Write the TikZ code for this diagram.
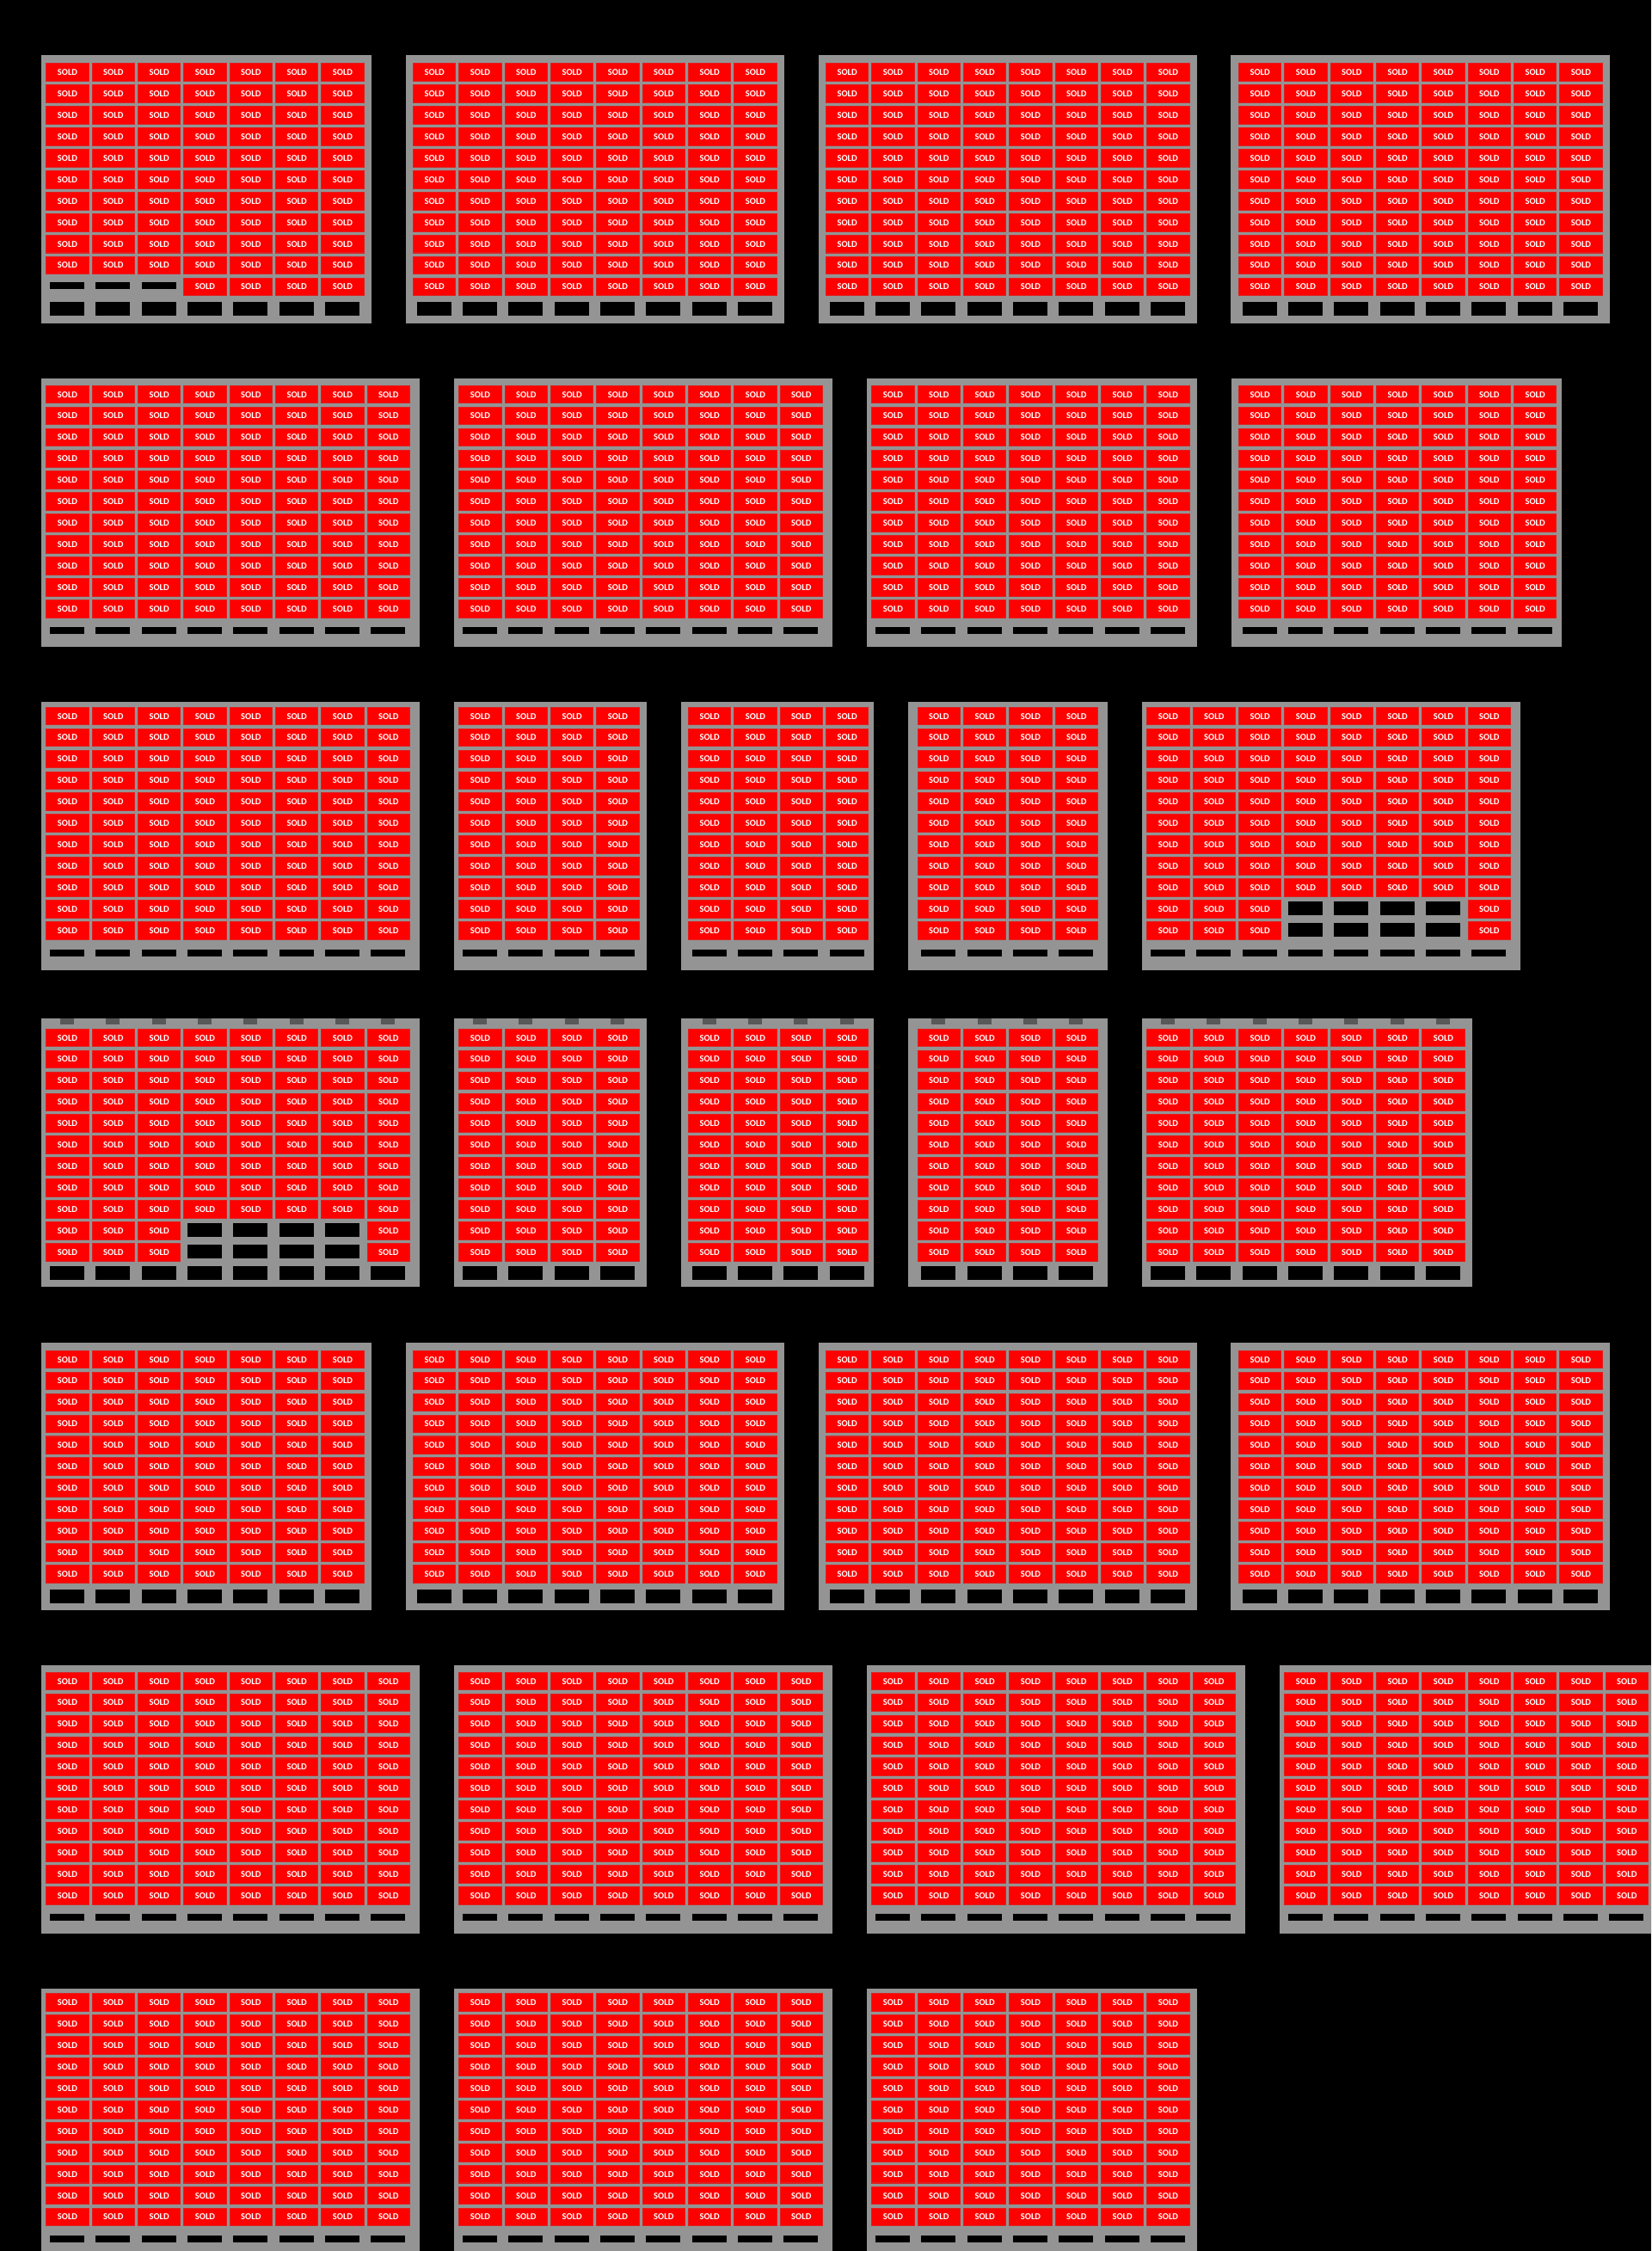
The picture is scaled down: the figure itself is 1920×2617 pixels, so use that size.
\documentclass[tikz,border=0pt]{standalone}
\usepackage{fontspec}
\newfontfamily\seatfont{Carlito}
\usepackage{tikz}
\definecolor{lotgray}{RGB}{148,148,148}
\definecolor{soldred}{RGB}{255,0,0}
\definecolor{tabgray}{RGB}{88,88,88}

\begin{document}
\begin{tikzpicture}[x=0.01cm, y=-0.01cm,
    seat/.style={rectangle, fill=soldred, draw=red!75!gray, line width=0.3pt,
                 minimum width=0.493cm, minimum height=0.207cm, inner sep=0pt,
                 anchor=north west, text=white,
                 font=\seatfont\bfseries\fontsize{3}{3}\selectfont},
    slot/.style={fill=black},
    lot/.style={fill=lotgray},
    tab/.style={fill=tabgray}
  ]
    % Page
    \useasboundingbox (0,0) rectangle (1920,2617);
    \fill[black] (0,0) rectangle (1920,2617);
    \clip (0,0) rectangle (1920,2617);
    % Row data (one entry per row of blocks)
    \def\celltop{{73.3,447.7,821.7,1195.7,1569.7,1943.7,2317.3}}
    \def\lottop{{64.3,440,816,1184,1561,1936,2312.3}}
    \def\lotbot{{375.7,751.7,1127.7,1495.7,1872,2247.7,2624}}
    \def\slottop{{278,281,282,276,278,281,282}}
    \def\slotht{{16,8,8,16,16,8,8}}
    % Blocks: name / row / first column / columns / left / right / empty seats
    \foreach \blk/\b/\cz/\n/\xl/\xr/\gap in {
        A1/0/1/7/48.3/432/1, A2/0/9/8/472/912/0, A3/0/18/8/951.7/1392.4/0, A4/0/27/8/1430.8/1871.6/0,
        B1/1/1/8/48.3/488/0, B2/1/10/8/527.6/968.4/0, B3/1/19/7/1008.4/1392.4/0, B4/1/27/7/1432/1816/0,
        C1/2/1/8/48.3/488/0, C2/2/10/4/528/752/0, C3/2/15/4/792/1016/0, C4/2/20/4/1056/1288/0, C5/2/25/8/1328.3/1768/2,
        D1/3/1/8/48.3/488/2, D2/3/10/4/528/752/0, D3/3/15/4/792/1016/0, D4/3/20/4/1056/1288/0, D5/3/25/7/1328.3/1712/0,
        E1/4/1/7/48.3/432/0, E2/4/9/8/472/912/0, E3/4/18/8/951.7/1392.4/0, E4/4/27/8/1430.8/1871.6/0,
        F1/5/1/8/48.3/488/0, F2/5/10/8/527.6/968.4/0, F3/5/19/8/1008.4/1447.5/0, F4/5/28/8/1488.3/1930/0,
        G1/6/1/8/48.3/488/0, G2/6/10/8/527.6/968.4/0, G3/6/19/7/1008.4/1392.4/0}{
      \pgfmathsetmacro\yc{\celltop[\b]}
      \pgfmathsetmacro\yt{\lottop[\b]}
      \pgfmathsetmacro\yb{\lotbot[\b]}
      \pgfmathsetmacro\st{\slottop[\b]}
      \pgfmathsetmacro\sh{\slotht[\b]}
      \pgfmathsetmacro\bo{\gap==1 ? 5.6 : 2.4}
      \pgfmathsetmacro\bh{\gap==1 ? 7.5 : 16}
      % Lot
      \fill[lot] (\xl,\yt) rectangle (\xr,\yb);
      \foreach \k in {1,...,\n}{
        \pgfmathsetmacro\xc{53.333*(\cz+\k-1)}
        % Bottom slots
        \fill[slot] (\xc+4.65,\yc+\st) rectangle ++(40,\sh);
        % Tabs
        \ifnum\b=3 \fill[tab] (\xc+16.65,\yt) rectangle ++(16,7); \fi
        % Seats
        \foreach \r in {0,...,10}{
          \pgfmathsetmacro\yr{\yc+24.93*\r}
          \pgfmathtruncatemacro\blank{(\gap==1)*(\r==10)*(\k<=3)+(\gap==2)*(\r>=9)*(\k>=4)*(\k<=7)}
          \ifnum\blank=1
            \fill[slot] (\xc+4.65,\yr+\bo) rectangle ++(40,\bh);
          \else
            \node[seat] (\blk-\r-\k) at (\xc,\yr) {SOLD};
          \fi
        }
      }
    }
\end{tikzpicture}
\end{document}
